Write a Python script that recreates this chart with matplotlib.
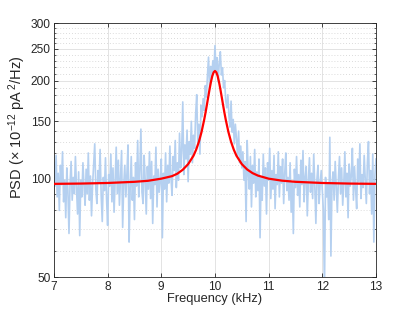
import matplotlib
matplotlib.use("Agg")
import matplotlib.pyplot as plt
import matplotlib.ticker as ticker
import numpy as np

freq_start = 7.0
freq_step = 0.02
psd_meas = [
    112, 95, 118, 88, 104, 80, 110, 96, 121, 85,
    99, 76, 108, 92, 68, 97, 113, 86, 101, 90,
    117, 94, 78, 105, 67, 99, 88, 112, 95, 83,
    107, 90, 120, 86, 102, 77, 96, 111, 128, 93,
    84, 106, 98, 123, 89, 74, 101, 92, 116, 87,
    72, 103, 95, 119, 85, 108, 79, 98, 125, 90,
    114, 83, 100, 122, 71, 96, 110, 88, 104, 127,
    64, 93, 117, 86, 101, 75, 112, 95, 131, 88,
    106, 142, 91, 84, 118, 99, 78, 109, 93, 121,
    87, 113, 73, 102, 96, 125, 82, 107, 91, 99,
    115, 66, 104, 93, 120, 85, 110, 97, 126, 101,
    89, 117, 106, 131, 94, 112, 99, 138, 108, 122,
    172, 103, 127, 115, 141, 98, 130, 119, 150, 112,
    136, 124, 158, 181, 129, 147, 119, 168, 155, 176,
    162, 193, 178, 207, 236, 188, 221, 205, 230, 212,
    256, 214, 235, 198, 226, 245, 208, 219, 190, 200,
    174, 165, 181, 156, 144, 173, 139, 152, 128, 147,
    133, 118, 140, 112, 126, 108, 121, 99, 113, 74,
    131, 104, 93, 117, 82, 110, 97, 123, 88, 105,
    92, 115, 66, 101, 86, 119, 95, 108, 78, 112,
    99, 124, 87, 106, 93, 118, 81, 103, 96, 121,
    88, 109, 97, 115, 84, 104, 120, 92, 101, 86,
    112, 79, 98, 68, 107, 94, 117, 89, 103, 82,
    114, 96, 122, 85, 101, 109, 77, 98, 116, 91,
    104, 87, 119, 95, 73, 100, 110, 84, 97, 106,
    92, 80, 45, 101, 88, 97, 75, 134, 58, 96,
    105, 86, 113, 94, 79, 100, 117, 90, 108, 83,
    97, 121, 88, 104, 76, 111, 95, 102, 124, 86,
    109, 93, 81, 115, 98, 128, 87, 103, 94, 118,
    99, 84, 112, 130, 90, 106, 78, 119, 64, 102,
    115,
]

# Fitted curve (red)
fit_freq = [7.0, 7.5, 8.0, 8.5, 8.75, 9.0, 9.2, 9.3, 9.4, 9.5, 9.6, 9.65, 9.7,
            9.75, 9.8, 9.825, 9.85, 9.875, 9.9, 9.925, 9.95, 9.975, 10.0,
            10.025, 10.05, 10.075, 10.1, 10.125, 10.15, 10.175, 10.2, 10.25,
            10.3, 10.35, 10.4, 10.5, 10.6, 10.7, 10.8, 11.0, 11.25, 11.5,
            12.0, 12.5, 13.0]
fit_psd = [96.5, 96.7, 97.1, 97.9, 98.6, 100.1, 101.9, 103.7, 106.6, 110.9,
           117.7, 122.9, 129.8, 139.2, 152.0, 159.8, 168.7, 178.4, 188.4,
           198.1, 206.4, 212.0, 214.0, 212.0, 206.4, 198.1, 188.4, 178.4,
           168.7, 159.8, 152.0, 139.2, 129.8, 122.9, 117.7, 110.9, 106.8,
           104.1, 102.3, 100.1, 98.7, 97.9, 97.1, 96.7, 96.5]

x_ticks = [7, 8, 9, 10, 11, 12, 13]
y_ticks = [50, 100, 150, 200, 250, 300]
y_minor = [60, 70, 80, 90, 110, 120, 130, 140, 160, 170, 180, 190,
           210, 220, 230, 240, 260, 270, 280, 290]

freq = freq_start + freq_step * np.arange(len(psd_meas))

plt.rcParams["font.family"] = ["Liberation Sans", "DejaVu Sans"]
plt.rcParams["mathtext.fontset"] = "custom"
plt.rcParams["mathtext.rm"] = "Liberation Sans"
plt.rcParams["mathtext.it"] = "Liberation Sans:italic"

fig = plt.figure(figsize=(4.15, 3.12), dpi=100)
ax = fig.add_axes([0.130, 0.112, 0.776, 0.814])

ax.plot(freq, psd_meas, color="#b5d0f0", linewidth=1.2, zorder=2)
ax.plot(fit_freq, fit_psd, color="#ff0000", linewidth=1.6, zorder=3)

ax.set_yscale("log")
ax.set_xlim(7, 13)
ax.set_ylim(50, 300)
ax.set_xticks(x_ticks)
ax.set_yticks(y_ticks)
ax.yaxis.set_major_formatter(ticker.FixedFormatter([str(v) for v in y_ticks]))
ax.yaxis.set_minor_locator(ticker.FixedLocator(y_minor))
ax.yaxis.set_minor_formatter(ticker.NullFormatter())

ax.grid(True, which="major", color="#e3e3e3", linewidth=0.7, linestyle="-", zorder=0)
ax.grid(True, which="minor", axis="y", color="#cfcfcf", linewidth=0.6, linestyle=(0, (1, 2.5)), zorder=0)
ax.set_axisbelow(True)

ax.tick_params(which="both", direction="in", top=True, right=True, colors="#262626",
               labelsize=8.6, pad=2.5)
ax.tick_params(which="major", length=3, width=0.6)
ax.tick_params(which="minor", length=1.7, width=0.5)
for s in ax.spines.values():
    s.set_color("#262626")
    s.set_linewidth(0.6)

ax.set_xlabel("Frequency (kHz)", fontsize=9.3, color="#262626", labelpad=0)
ax.set_ylabel(r"PSD ($\times$ 10$^{-12}$ pA$^{\,2}$/Hz)", fontsize=10.5, color="#262626")
ax.yaxis.set_label_coords(-0.082, 0.59)

fig.savefig("out.png", dpi=100)
